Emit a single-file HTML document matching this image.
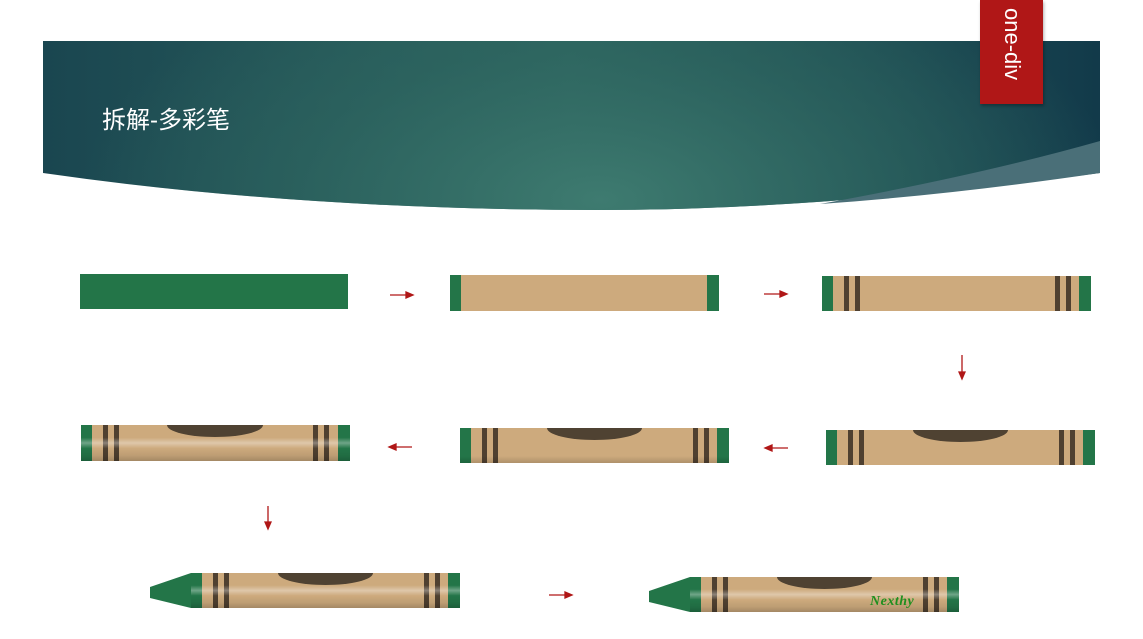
<!DOCTYPE html>
<html><head><meta charset="utf-8">
<style>
body{margin:0;width:1143px;height:639px;background:#fff;position:relative;overflow:hidden;font-family:"Liberation Sans","Noto Sans CJK SC",sans-serif}
.abs{position:absolute}
.cr{position:absolute;width:269px;height:35px;background:#cdaa7d;overflow:hidden}
.cap{position:absolute;top:0;width:11px;height:100%;background:#237548}
.st{position:absolute;top:0;width:5px;height:100%;background:#4f4030}
.oval{position:absolute;left:87px;top:-12px;width:95px;height:24px;border-radius:50%;background:#4f4232}
.shine{position:absolute;left:0;top:0;width:100%;height:100%;background:linear-gradient(to bottom,rgba(255,255,255,0) 0%,rgba(255,255,255,0) 35%,rgba(255,255,255,0.35) 50%,rgba(255,255,255,0) 65%,rgba(0,0,0,0.08) 85%,rgba(0,0,0,0.2) 100%)}
</style></head><body>
<svg class="abs" style="left:0;top:0" width="1143" height="220">
<defs>
<linearGradient id="lin" x1="0" x2="1" y1="0" y2="0"><stop offset="0" stop-color="#1a4650"/><stop offset="0.5" stop-color="#2e6660"/><stop offset="1" stop-color="#123a4a"/></linearGradient>
<radialGradient id="rad" cx="600" cy="200" r="520" gradientUnits="userSpaceOnUse" gradientTransform="translate(600,200) scale(1,0.5) translate(-600,-200)"><stop offset="0" stop-color="#3e7b70" stop-opacity="1"/><stop offset="0.6" stop-color="#2e6660" stop-opacity="0.6"/><stop offset="1" stop-color="#2e6660" stop-opacity="0"/></radialGradient>
</defs>
<path d="M43 41 H1100 V173 Q820 210 600 210 Q300 210 43 173 Z" fill="url(#lin)"/>
<path d="M43 41 H1100 V173 Q820 210 600 210 Q300 210 43 173 Z" fill="url(#rad)"/>
<path d="M1100 141 V173 Q950 195 820 204 Q980 175 1100 141 Z" fill="#4a6f78"/>
</svg>
<div class="abs" style="left:102px;top:100px;color:#fff;font-size:24px;font-family:'Liberation Sans','Noto Sans CJK SC',sans-serif">拆解-多彩笔</div>
<div class="abs" style="left:980px;top:0;width:63px;height:104px;background:#b01717;box-shadow:1px 2px 3px rgba(0,0,0,.3)">
<div style="position:absolute;left:45px;top:8px;transform-origin:0 0;transform:rotate(90deg);color:#fff;font-size:22px;white-space:nowrap">one-div</div></div>

<div class="cr" style="left:80px;top:274px;width:268px;background:#237548"></div>

<div class="cr" style="left:450px;top:275px;height:36px"><div class="cap" style="left:0"></div><div class="cap" style="right:0;width:12px"></div></div>

<div class="cr" style="left:822px;top:276px"><div class="cap" style="left:0"></div><div class="cap" style="right:0;width:12px"></div><div class="st" style="left:22px"></div><div class="st" style="left:33px"></div><div class="st" style="left:233px"></div><div class="st" style="left:244px"></div></div>

<div class="cr" style="left:826px;top:430px"><div class="cap" style="left:0"></div><div class="cap" style="right:0;width:12px"></div><div class="st" style="left:22px"></div><div class="st" style="left:33px"></div><div class="st" style="left:233px"></div><div class="st" style="left:244px"></div><div class="oval"></div></div>

<div class="cr" style="left:460px;top:428px"><div class="cap" style="left:0"></div><div class="cap" style="right:0;width:12px"></div><div class="st" style="left:22px"></div><div class="st" style="left:33px"></div><div class="st" style="left:233px"></div><div class="st" style="left:244px"></div><div class="oval"></div><div class="shine" style="background:linear-gradient(to bottom,rgba(0,0,0,0) 80%,rgba(0,0,0,0.15) 100%)"></div></div>

<div class="cr" style="left:81px;top:425px;height:36px"><div class="cap" style="left:0"></div><div class="cap" style="right:0;width:12px"></div><div class="st" style="left:22px"></div><div class="st" style="left:33px"></div><div class="st" style="left:232px"></div><div class="st" style="left:243px"></div><div class="oval" style="left:86px;width:96px"></div><div class="shine"></div></div>

<svg class="abs" style="left:150px;top:573px" width="42" height="36"><path d="M41 0 V35 L0 25 V14 Z" fill="#237548"/></svg>
<div class="cr" style="left:191px;top:573px"><div class="cap" style="left:0"></div><div class="cap" style="right:0;width:12px"></div><div class="st" style="left:22px"></div><div class="st" style="left:33px"></div><div class="st" style="left:233px"></div><div class="st" style="left:244px"></div><div class="oval"></div><div class="shine"></div></div>

<svg class="abs" style="left:649px;top:577px" width="42" height="36"><path d="M41 0 V35 L0 25 V14 Z" fill="#237548"/></svg>
<div class="cr" style="left:690px;top:577px"><div class="cap" style="left:0"></div><div class="cap" style="right:0;width:12px"></div><div class="st" style="left:22px"></div><div class="st" style="left:33px"></div><div class="st" style="left:233px"></div><div class="st" style="left:244px"></div><div class="oval"></div><div class="shine"></div>
<div style="position:absolute;left:180px;top:17px;color:#1f8f1f;font-family:'Liberation Serif',serif;font-style:italic;font-weight:bold;font-size:14px;letter-spacing:0.5px">Nexthy</div></div>

<svg class="abs" style="left:0;top:0" width="1143" height="639">
<g stroke="#b01717" stroke-width="1.3" fill="#b01717">
<line x1="390" y1="295" x2="408" y2="295"/><path d="M413 295 L406 292 L406 298Z"/>
<line x1="764" y1="294" x2="782" y2="294"/><path d="M787 294 L780 291 L780 297Z"/>
<line x1="962" y1="355" x2="962" y2="374"/><path d="M962 379 L959 372 L965 372Z"/>
<line x1="412" y1="447" x2="394" y2="447"/><path d="M389 447 L396 444 L396 450Z"/>
<line x1="788" y1="448" x2="770" y2="448"/><path d="M765 448 L772 445 L772 451Z"/>
<line x1="268" y1="506" x2="268" y2="524"/><path d="M268 529 L265 522 L271 522Z"/>
<line x1="549" y1="595" x2="567" y2="595"/><path d="M572 595 L565 592 L565 598Z"/>
</g></svg>
</body></html>
